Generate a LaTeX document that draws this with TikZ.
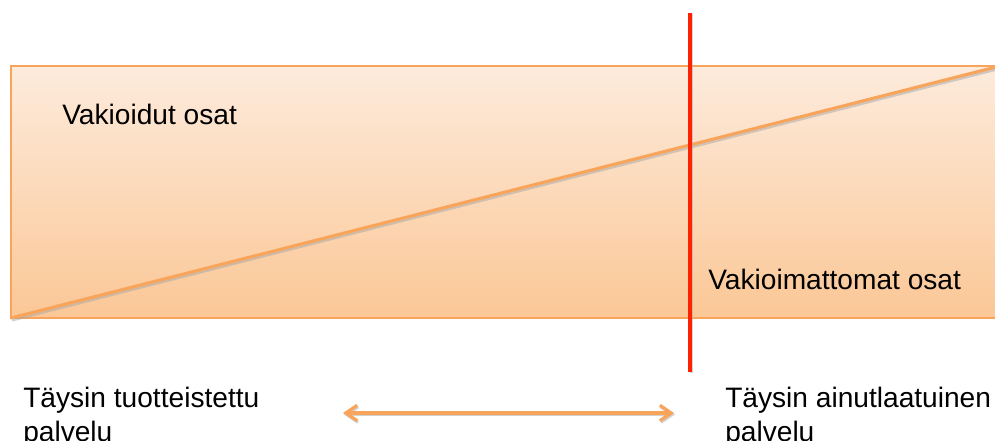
\documentclass[tikz,border=0pt]{standalone}
\usepackage{fontspec}
\setmainfont{Liberation Sans}
\usetikzlibrary{arrows.meta,positioning,calc}
\definecolor{PeachTop}{HTML}{FDEBDC}
\definecolor{PeachLow}{HTML}{FBC796}
\definecolor{Edge}{HTML}{F8A45A}
\definecolor{Cut}{HTML}{FF2200}
\tikzset{
  lbl/.style={anchor=base west,inner sep=0pt,align=left,font=\fontsize{20}{24}\selectfont},
  shadowline/.style={black!35,opacity=0.5,line width=2.2pt}
}

\begin{document}
\begin{tikzpicture}[x=0.025cm,y=-0.025cm]
\useasboundingbox (0,0) rectangle (995,441);
\clip (0,0) rectangle (995,441);
% band
\coordinate (bandNW) at (11,66);
\coordinate (bandSW) at (11,318);
\coordinate (bandNE) at (1005,66);
\coordinate (bandSE) at (1005,318);
\coordinate (slopeEnd) at (996,67);
\shade[top color=PeachTop,bottom color=PeachLow] (bandNW) rectangle (bandSE);
\draw[Edge,line width=1pt] (bandNE) -- (bandNW) -- (bandSW) -- (bandSE);
\draw[shadowline] ($(bandSW)+(1,2)$) -- ($(slopeEnd)+(1,2)$);
\draw[Edge,line width=2.2pt] (bandSW) -- (slopeEnd);
% split
\coordinate (cutTop) at (690,13);
\coordinate (cutBot) at (690,372);
\draw[shadowline] ($(cutTop)+(1.5,1)$) -- ($(cutBot)+(1.5,1)$);
\draw[Cut,line width=2.2pt] (cutTop) -- (cutBot);
\node[lbl] (fixed) at (62,124) {Vakioidut osat};
\node[lbl] (custom) at (708,289) {Vakioimattomat osat};
% scale
\node[lbl] (prodEnd) at (23,441) {Täysin tuotteistettu\\palvelu};
\node[lbl] (uniqEnd) at (725,441) {Täysin ainutlaatuinen\\palvelu};
\coordinate (tipL) at (343,413);
\coordinate (tipR) at (674,413);
\draw[shadowline,line width=2.3pt,{Straight Barb[length=8pt,width=11pt]}-{Straight Barb[length=8pt,width=11pt]}] ($(tipL)+(1,1.5)$) -- ($(tipR)+(1,1.5)$);
\draw[Edge,line width=2.3pt,{Straight Barb[length=8pt,width=11pt]}-{Straight Barb[length=8pt,width=11pt]}] (tipL) -- (tipR);
\end{tikzpicture}
\end{document}
